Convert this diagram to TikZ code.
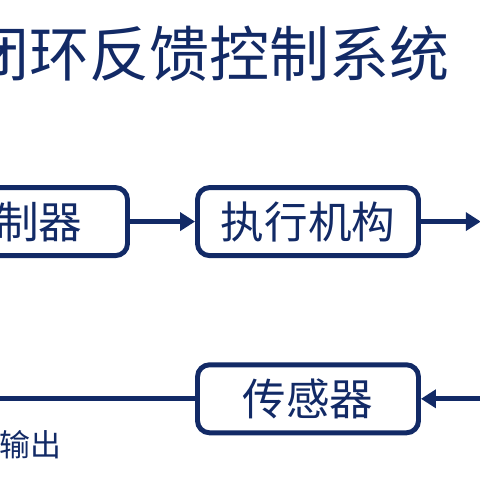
\documentclass[tikz,border=0pt]{standalone}
\usepackage{fontspec}
\setmainfont{Noto Sans CJK SC}
\usetikzlibrary{arrows.meta,positioning}
\definecolor{navy}{RGB}{18,42,102}

\begin{document}
\begin{tikzpicture}[>={Triangle[length=3.75mm,width=4.5mm]}, line width=3.5pt]
                \useasboundingbox (0,0) rectangle (12,12);
                \clip (0,0) rectangle (12,12);

                \tikzset{block/.style={draw=navy, fill=white, rounded corners=3mm,
                        minimum width=5.525cm, minimum height=1.7cm,
                        text=navy, font=\fontsize{31pt}{31pt}\selectfont}}

                % \node (ref) at (-7,6.46) {};
                \node[text=navy, font=\fontsize{42.7pt}{42.7pt}\selectfont] (title) at (5.23,10.66) {闭环反馈控制系统};

                \node[block] (ctrl) at (0.425,6.46) {控制器};
                \node[block] (act) at (7.7,6.46) {执行机构};
                \node[block] (sensor) at (7.7,2.03) {传感器};

                \coordinate (plant) at (12.02,6.46);
                \coordinate (plantout) at (12.6,2.03);
                \coordinate (back) at (-0.6,2.03);

                \node[text=navy, font=\fontsize{22pt}{22pt}\selectfont] (yout) at (0.76,0.88) {输出};

                \draw[->, navy] (ctrl) -- (act);
                \draw[->, navy] (act) -- (plant);

                \draw[->, navy] (plantout) -- (sensor);
                \draw[navy] (sensor) -- (back);
            \end{tikzpicture}
\end{document}
